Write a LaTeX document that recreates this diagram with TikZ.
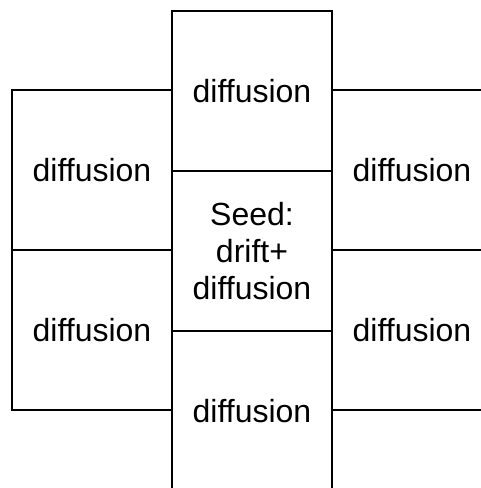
\documentclass[tikz,border=0pt]{standalone}
\usepackage{fontspec}
\setmainfont{Liberation Sans}
\begin{document}
\begin{tikzpicture}[x=1pt,y=-1pt,
  cell/.style={draw=black, line width=2pt, minimum width=160pt, minimum height=160pt,
    inner sep=0pt, align=center, font=\fontsize{32}{37}\selectfont}]
\useasboundingbox (0,0) rectangle (481,488);
\clip (0,0) rectangle (481,488);
% centre column
\node[cell] (top) at (252,91) {diffusion};
\node[cell] (seed) at (252,251) {Seed:\\drift+\\diffusion};
\node[cell] (bottom) at (252,411) {diffusion};
% left column
\node[cell] (lefttop) at (92,170) {diffusion};
\node[cell] (leftbottom) at (92,330) {diffusion};
% right column
\node[cell] (righttop) at (412,170) {diffusion};
\node[cell] (rightbottom) at (412,330) {diffusion};
\end{tikzpicture}
\end{document}
